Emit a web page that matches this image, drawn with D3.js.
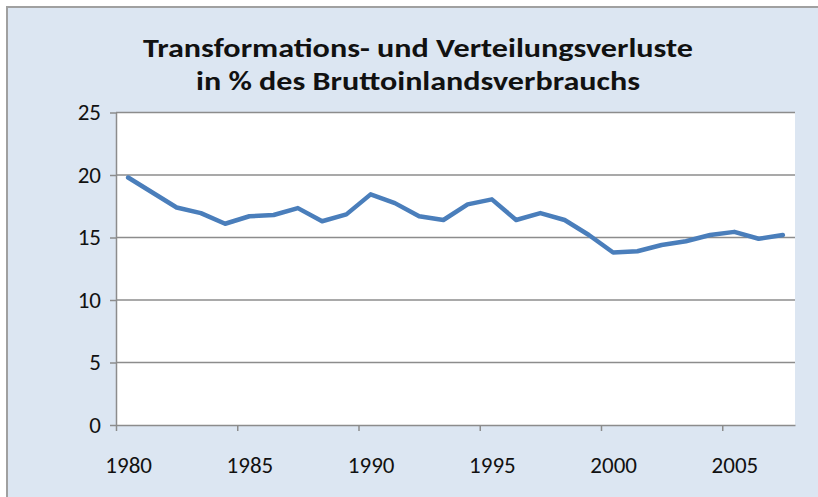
<!DOCTYPE html>
<html>
<head>
<meta charset="utf-8">
<script src="https://d3js.org/d3.v7.min.js"></script>
<style>
  body { margin: 0; background: white; }
  * { font-family: Carlito, Calibri, 'Liberation Sans Narrow', 'Liberation Sans', sans-serif; }
</style>
</head>
<body>
<script>
// data
const years = d3.range(1980, 2008);
const losses = [19.8, 18.6, 17.4, 16.95, 16.1, 16.7, 16.8, 17.35, 16.3, 16.85,
                18.45, 17.75, 16.7, 16.4, 17.65, 18.05, 16.4, 16.95, 16.4, 15.2,
                13.8, 13.9, 14.4, 14.7, 15.2, 15.45, 14.9, 15.2];
const yTicks = [0, 5, 10, 15, 20, 25];
const xTicks = [1980, 1985, 1990, 1995, 2000, 2005];
const titleLines = ["Transformations- und Verteilungsverluste", "in % des Bruttoinlandsverbrauchs"];

const width = 818, height = 497;
const plot = {left: 116, right: 795, top: 112.5, bottom: 425};

const svg = d3.select("body").append("svg").attr("width", width).attr("height", height);

// chart area with grey frame on top/left
svg.append("rect").attr("x", 7).attr("y", 7).attr("width", width).attr("height", height)
  .attr("fill", "#dce6f2").attr("stroke", "#a0a0a0").attr("stroke-width", 2);

// title
const title = svg.append("g");
title.selectAll("text").data(titleLines).enter().append("text")
  .attr("x", 418).attr("y", (d, i) => 57 + i * 33)
  .attr("text-anchor", "middle")
  .attr("font-weight", "bold").attr("font-size", 27).attr("fill", "#111")
  .attr("textLength", (d, i) => [550, 444][i])
  .attr("lengthAdjust", "spacingAndGlyphs")
  .text(d => d);

// plot area
svg.append("rect").attr("x", plot.left).attr("y", plot.top)
  .attr("width", plot.right - plot.left).attr("height", plot.bottom - plot.top)
  .attr("fill", "white");

const x = d3.scaleLinear().domain([1980, 2008]).range([plot.left, plot.right]);
const y = d3.scaleLinear().domain([0, 25]).range([plot.bottom, plot.top]);

// gridlines
svg.append("g").selectAll("line").data(yTicks.filter(d => d > 0)).enter().append("line")
  .attr("x1", plot.left).attr("x2", plot.right)
  .attr("y1", d => y(d)).attr("y2", d => y(d))
  .attr("stroke", "#8c8c8c").attr("stroke-width", 1.3);

// y axis
const yAxis = svg.append("g").attr("transform", `translate(${plot.left},0)`)
  .call(d3.axisLeft(y).tickValues(yTicks).tickSizeInner(6).tickSizeOuter(0).tickPadding(9));
yAxis.selectAll("text").attr("font-size", 23).attr("fill", "#111");

// x axis, ticks between categories, labels on category centres
const xAxis = svg.append("g").attr("transform", `translate(0,${plot.bottom})`)
  .call(d3.axisBottom(x).tickValues(xTicks).tickFormat(d3.format("d"))
    .tickSizeInner(6).tickSizeOuter(0).tickPadding(26));
xAxis.selectAll("text").attr("font-size", 23).attr("fill", "#111")
  .attr("dx", (x(1981) - x(1980)) / 2);

svg.selectAll(".domain, .tick line").attr("stroke", "#8c8c8c").attr("stroke-width", 1.5);

// series line
const line = d3.line().x((d, i) => x(years[i] + 0.5)).y(d => y(d));
svg.append("path").datum(losses)
  .attr("d", line)
  .attr("fill", "none").attr("stroke", "#4a7ebb").attr("stroke-width", 4.5)
  .attr("stroke-linejoin", "round").attr("stroke-linecap", "round");
</script>
</body>
</html>
